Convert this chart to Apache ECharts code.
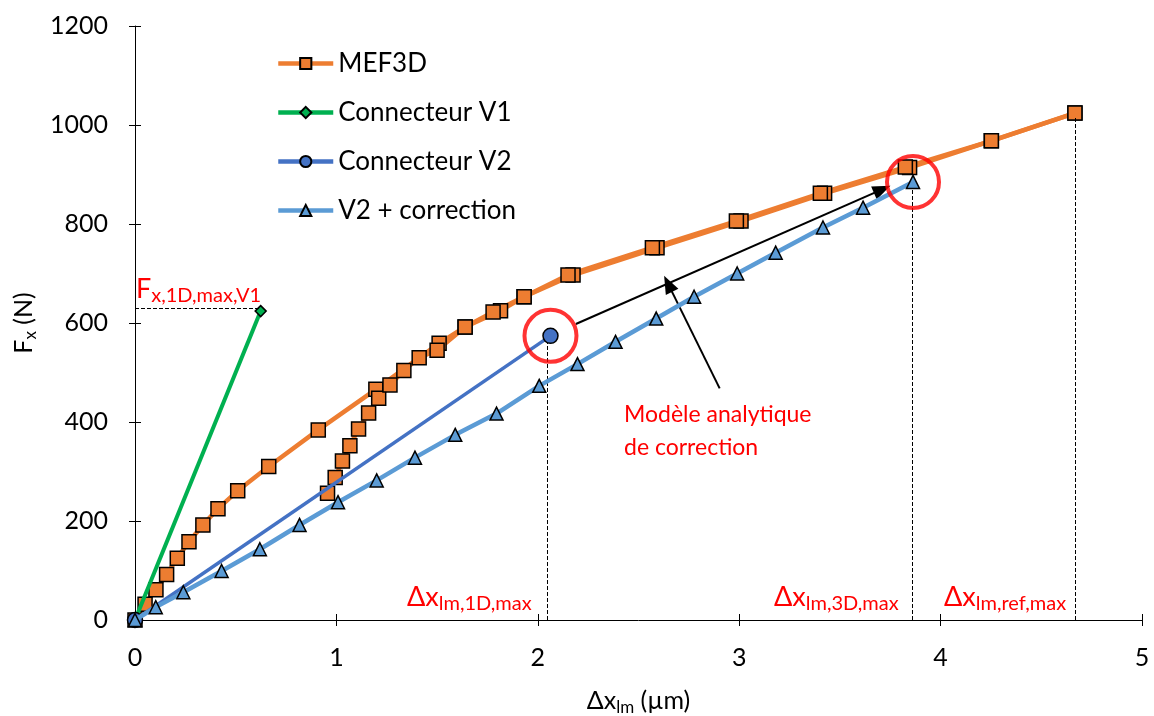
<!DOCTYPE html>
<html>
<head>
<meta charset="utf-8">
<script src="https://cdn.jsdelivr.net/npm/echarts@6/dist/echarts.min.js"></script>
<style>
  html, body { margin: 0; padding: 0; background: #fff; }
  #chart { width: 1154px; height: 716px; }
</style>
</head>
<body>
<div id="chart"></div>
<script>
// MEF3D, first branch (from origin)
const mefAX = [0, 0.05, 0.104, 0.157, 0.21, 0.268, 0.337, 0.412, 0.51, 0.664, 0.91, 1.196, 1.51, 1.639, 1.815, 1.932, 2.175, 2.592, 3.009, 3.424, 3.846, 4.252, 4.667];
const mefAY = [0, 32, 61, 92, 125, 158, 192, 225, 261, 310, 384, 466, 559, 592, 625, 653, 697, 752, 806, 862, 914, 968, 1024];
// MEF3D, second branch (steep part)
const mefBX = [0.956, 0.994, 1.03, 1.067, 1.11, 1.16, 1.21, 1.266, 1.335, 1.411, 1.5, 1.639, 1.778, 1.932, 2.15, 2.569, 2.986, 3.403, 3.825, 4.252, 4.667];
const mefBY = [256, 288, 321, 352, 386, 418, 448, 475, 504, 530, 545, 592, 622, 653, 697, 752, 806, 862, 915, 968, 1024];
// Connecteur V1
const v1X = [0, 0.624];
const v1Y = [0, 624];
// Connecteur V2
const v2X = [0, 2.063];
const v2Y = [0, 574];
// V2 + correction
const corrX = [0, 0.103, 0.24, 0.43, 0.62, 0.817, 1.008, 1.2, 1.39, 1.59, 1.795, 2.007, 2.197, 2.386, 2.588, 2.776, 2.99, 3.181, 3.416, 3.615, 3.863];
const corrY = [0, 26, 56, 99, 143, 192, 238, 282, 328, 374, 417, 473, 517, 562, 609, 653, 700, 742, 793, 833, 885];

const xTicks = [0, 1, 2, 3, 4, 5];
const yTicks = [0, 200, 400, 600, 800, 1000, 1200];

const zip = (xs, ys) => xs.map((x, i) => [x, ys[i]]);

const FONT = 'Lato';
const ORANGE = '#ED7D31';
const GREEN = '#00B050';
const BLUE = '#4472C4';
const LBLUE = '#5B9BD5';
const RED = '#FF0000';

const chart = echarts.init(document.getElementById('chart'));

const dashed = { type: 'dashed', color: '#000', width: 1 };
const redRich = {
  b: { fontSize: 27, fill: RED, fontFamily: FONT, lineHeight: 32 },
  s: { fontSize: 20, fill: RED, fontFamily: FONT, lineHeight: 18, verticalAlign: 'bottom' }
};

const baseAxis = {
  type: 'value',
  splitLine: { show: false },
  axisLine: { show: true, onZero: false, lineStyle: { color: '#000', width: 1 } },
  axisTick: { show: true, length: 6, lineStyle: { color: '#000', width: 1 } }
};

const titleRich = {
  b: { fontSize: 25, fontFamily: FONT, color: '#000', lineHeight: 30 },
  s: { fontSize: 17, fontFamily: FONT, color: '#000', lineHeight: 15, verticalAlign: 'bottom' }
};

const option = {
  backgroundColor: '#fff',
  animation: false,
  grid: { left: 135, right: 12, top: 26, bottom: 96, outerBoundsMode: 'none', containLabel: false },
  legend: {
    orient: 'vertical',
    left: 271,
    top: 45,
    itemWidth: 55,
    itemHeight: 14,
    itemGap: 22,
    data: ['MEF3D', 'Connecteur V1', 'Connecteur V2', 'V2 + correction'],
    lineStyle: { width: 4.5 },
    textStyle: { fontSize: 26, fontFamily: FONT, color: '#000', lineHeight: 27, padding: [0, 0, 0, 0] }
  },
  xAxis: [
    Object.assign({}, baseAxis, {
      min: 0, max: 5, interval: 1,
      axisLabel: {
        fontSize: 25, fontFamily: FONT, color: '#000', margin: 25,
        formatter: (v) => (xTicks.includes(v) ? String(v) : '')
      },
      name: '{b|Δx}{s|lm}{b| (µm)}',
      nameLocation: 'middle',
      nameGap: 66,
      nameTextStyle: { rich: titleRich }
    }),
    Object.assign({}, baseAxis, {
      min: 0, max: 5, interval: 1, position: 'bottom',
      axisLine: { show: false },
      axisTick: { show: true, inside: true, length: 6, lineStyle: { color: '#000' } },
      axisLabel: { show: false }
    })
  ],
  yAxis: [
    Object.assign({}, baseAxis, {
      min: 0, max: 1200, interval: 200,
      axisLabel: {
        fontSize: 25, fontFamily: FONT, color: '#000', margin: 27,
        formatter: (v) => (yTicks.includes(v) ? String(v) : '')
      },
      name: '{b|F}{s|x}{b| (N)}',
      nameLocation: 'middle',
      nameRotate: 90,
      nameGap: 90,
      nameTextStyle: { rich: titleRich }
    }),
    Object.assign({}, baseAxis, {
      min: 0, max: 1200, interval: 200, position: 'left',
      axisLine: { show: false },
      axisTick: { show: true, inside: true, length: 6, lineStyle: { color: '#000' } },
      axisLabel: { show: false }
    })
  ],
  series: [
    {
      name: 'MEF3D',
      type: 'line',
      data: zip(mefAX, mefAY),
      symbol: 'rect',
      symbolSize: 14,
      lineStyle: { color: ORANGE, width: 4.5 },
      itemStyle: { color: ORANGE, borderColor: '#000', borderWidth: 1.5 },
      z: 2
    },
    {
      name: 'MEF3D (2)',
      type: 'line',
      data: zip(mefBX, mefBY),
      symbol: 'rect',
      symbolSize: 14,
      lineStyle: { color: ORANGE, width: 4.5 },
      itemStyle: { color: ORANGE, borderColor: '#000', borderWidth: 1.5 },
      z: 2
    },
    {
      name: 'Connecteur V1',
      type: 'line',
      data: zip(v1X, v1Y),
      symbol: 'diamond',
      symbolSize: 11,
      lineStyle: { color: GREEN, width: 4 },
      itemStyle: { color: GREEN, borderColor: '#000', borderWidth: 1.5 },
      z: 3
    },
    {
      name: 'Connecteur V2',
      type: 'line',
      data: zip(v2X, v2Y),
      symbol: 'circle',
      symbolSize: 15,
      lineStyle: { color: BLUE, width: 3.5 },
      itemStyle: { color: BLUE, borderColor: '#000', borderWidth: 1.5 },
      z: 4
    },
    {
      name: 'V2 + correction',
      type: 'line',
      data: zip(corrX, corrY),
      symbol: 'triangle',
      symbolSize: 13,
      lineStyle: { color: LBLUE, width: 4.5 },
      itemStyle: { color: LBLUE, borderColor: '#000', borderWidth: 1.5 },
      z: 5
    },
    {
      name: 'annotations',
      type: 'line',
      data: [],
      z: 6,
      markLine: {
        silent: true,
        animation: false,
        label: { show: false },
        data: [
          [{ coord: [0, 629], symbol: 'none', lineStyle: dashed }, { coord: [0.62, 629], symbol: 'none' }],
          [{ coord: [2.045, 0], symbol: 'none', lineStyle: dashed }, { coord: [2.045, 560], symbol: 'none' }],
          [{ coord: [3.86, 0], symbol: 'none', lineStyle: dashed }, { coord: [3.86, 875], symbol: 'none' }],
          [{ coord: [4.667, 0], symbol: 'none', lineStyle: dashed }, { coord: [4.667, 1015], symbol: 'none' }],
          [{ coord: [2.189, 598], symbol: 'none', lineStyle: { color: '#000', width: 2, type: 'solid' } },
           { coord: [3.71, 870], symbol: 'triangle', symbolSize: [14, 18] }],
          [{ coord: [2.903, 468], symbol: 'none', lineStyle: { color: '#000', width: 2, type: 'solid' } },
           { coord: [2.647, 679], symbol: 'triangle', symbolSize: [14, 18] }]
        ],
        itemStyle: { color: '#000' }
      }
    },
    {
      name: 'circles',
      type: 'scatter',
      data: [[2.063, 574], [3.863, 885]],
      symbol: 'circle',
      symbolSize: 52,
      silent: true,
      itemStyle: { color: 'rgba(0,0,0,0)', borderColor: RED, borderWidth: 4 },
      z: 7
    }
  ],
  graphic: [
    {
      type: 'text', left: 136, top: 276, z: 10,
      style: { text: '{b|F}{s|x,1D,max,V1}', rich: redRich }
    },
    {
      type: 'text', left: 407, top: 584, z: 10,
      style: { text: '{b|Δx}{s|lm,1D,max}', rich: redRich }
    },
    {
      type: 'text', left: 774, top: 584, z: 10,
      style: { text: '{b|Δx}{s|lm,3D,max}', rich: redRich }
    },
    {
      type: 'text', left: 944, top: 584, z: 10,
      style: { text: '{b|Δx}{s|lm,ref,max}', rich: redRich }
    },
    {
      type: 'text', left: 624, top: 398, z: 10,
      style: {
        text: 'Modèle analytique\nde correction',
        fill: RED, fontSize: 23, fontFamily: FONT, lineHeight: 33, align: 'center'
      }
    }
  ]
};

chart.setOption(option);
</script>
</body>
</html>
